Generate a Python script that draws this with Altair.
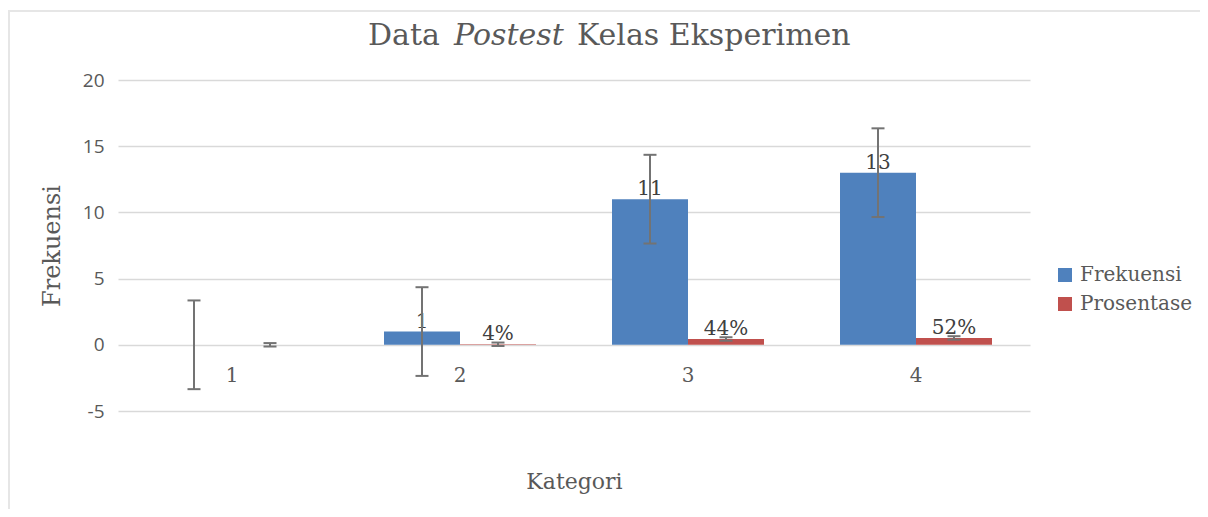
import altair as alt
import pandas as pd

categories = ["1", "2", "3", "4"]
series = ["Frekuensi", "Prosentase"]
frekuensi = [0, 1, 11, 13]
prosentase = [0, 0.04, 0.44, 0.52]
frekuensi_labels = ["", "1", "11", "13"]
prosentase_labels = ["", "4%", "44%", "52%"]
frekuensi_err = [3.35, 3.35, 3.35, 3.35]
prosentase_err = [0.13, 0.13, 0.13, 0.13]
y_ticks = [-5, 0, 5, 10, 15, 20]
title_parts = ["Data", "Postest", "Kelas Eksperimen"]
colors = ["#4F81BD", "#C0504D"]

SERIF = "DejaVu Serif"
SANS = "Open Sans"
GRAY = "#595959"

rows = []
for i, c in enumerate(categories):
    rows.append(dict(category=c, series=series[0], value=frekuensi[i],
                     err=frekuensi_err[i], label=frekuensi_labels[i]))
    rows.append(dict(category=c, series=series[1], value=prosentase[i],
                     err=prosentase_err[i], label=prosentase_labels[i]))
df = pd.DataFrame(rows)
df["lo"] = df["value"] - df["err"]
df["hi"] = df["value"] + df["err"]
cat_df = pd.DataFrame({"category": categories, "zero": [0] * len(categories)})

x = alt.X("category:N", sort=categories,
          scale=alt.Scale(paddingInner=1 / 3, paddingOuter=1 / 6),
          axis=alt.Axis(labels=False, ticks=False, domain=False, grid=False,
                        title="Kategori", titleFont=SERIF, titleFontSize=22,
                        titleFontWeight="normal", titleColor=GRAY, titlePadding=60))
xo = alt.XOffset("series:N", sort=series, scale=alt.Scale(paddingInner=0, paddingOuter=0))

yscale = alt.Scale(domain=[-5, 20], nice=False, zero=False)
yaxis = alt.Axis(values=y_ticks, title="Frekuensi", titleFont=SERIF, titleFontSize=24,
                 titleFontWeight="normal", titleColor=GRAY, titlePadding=18,
                 labelFont=SANS, labelFontSize=19, labelColor=GRAY, labelPadding=14,
                 labelExpr="'' + datum.value",
                 ticks=False, domain=False, gridColor="#D9D9D9", gridWidth=1.5)


def Y(field):
    return alt.Y(field, type="quantitative", scale=yscale, axis=yaxis)


bars = alt.Chart(df).mark_bar().encode(
    x=x, xOffset=xo, y=Y("value"),
    color=alt.Color("series:N", sort=series,
                    scale=alt.Scale(domain=series, range=colors),
                    legend=alt.Legend(title=None, orient="none", legendX=937, legendY=185,
                                      symbolType="square", symbolSize=196, symbolStrokeWidth=0,
                                      labelFont=SERIF, labelFontSize=20, labelColor=GRAY,
                                      labelOffset=5, rowPadding=9)))

labels = alt.Chart(df).mark_text(font=SERIF, fontSize=20, color="#404040",
                                 baseline="alphabetic", dy=-4).encode(
    x=x, xOffset=xo, y=Y("value"), text="label:N")

err_rule = alt.Chart(df).mark_rule(color="#737373", strokeWidth=2).encode(
    x=x, xOffset=xo, y=Y("lo"), y2="hi")
caps_lo = alt.Chart(df).mark_point(shape="M-1,0L1,0", filled=False, size=169, strokeWidth=2,
                                   color="#737373", opacity=1).encode(x=x, xOffset=xo, y=Y("lo"))
caps_hi = alt.Chart(df).mark_point(shape="M-1,0L1,0", filled=False, size=169, strokeWidth=2,
                                   color="#737373", opacity=1).encode(x=x, xOffset=xo, y=Y("hi"))

cat_labels = alt.Chart(cat_df).mark_text(font=SERIF, fontSize=20, color=GRAY,
                                         baseline="middle", dy=31).encode(
    x=x, y=Y("zero"), text="category:N")

t1 = alt.Chart(pd.DataFrame({"t": [title_parts[0]]})).mark_text(
    font=SERIF, fontSize=30, color=GRAY, align="left", baseline="alphabetic").encode(
    x=alt.value(250), y=alt.value(-35), text="t:N")
t2 = alt.Chart(pd.DataFrame({"t": [title_parts[1]]})).mark_text(
    font=SERIF, fontSize=30, fontStyle="italic", color=GRAY, align="left",
    baseline="alphabetic").encode(x=alt.value(336), y=alt.value(-35), text="t:N")
t3 = alt.Chart(pd.DataFrame({"t": [title_parts[2]]})).mark_text(
    font=SERIF, fontSize=30, color=GRAY, align="left", baseline="alphabetic").encode(
    x=alt.value(459), y=alt.value(-35), text="t:N")

frame_df = pd.DataFrame({"b": [0]})
border_top = alt.Chart(frame_df).mark_rule(stroke="#E6E6E6", strokeWidth=2).encode(
    x=alt.value(-110), x2=alt.value(1090), y=alt.value(-69))
border_left = alt.Chart(frame_df).mark_rule(stroke="#E6E6E6", strokeWidth=2).encode(
    x=alt.value(-109), y=alt.value(-70), y2=alt.value(440))

chart = alt.layer(border_top, border_left, bars, labels, err_rule, caps_lo, caps_hi,
                  cat_labels, t1, t2, t3).properties(
    width=912, height=331,
    autosize=alt.AutoSizeParams(type="none"),
    padding={"left": 110, "top": 72, "right": 170, "bottom": 98},
).configure_view(stroke="transparent")

chart.save("out.html", embed_options={"renderer": "svg", "actions": False})
